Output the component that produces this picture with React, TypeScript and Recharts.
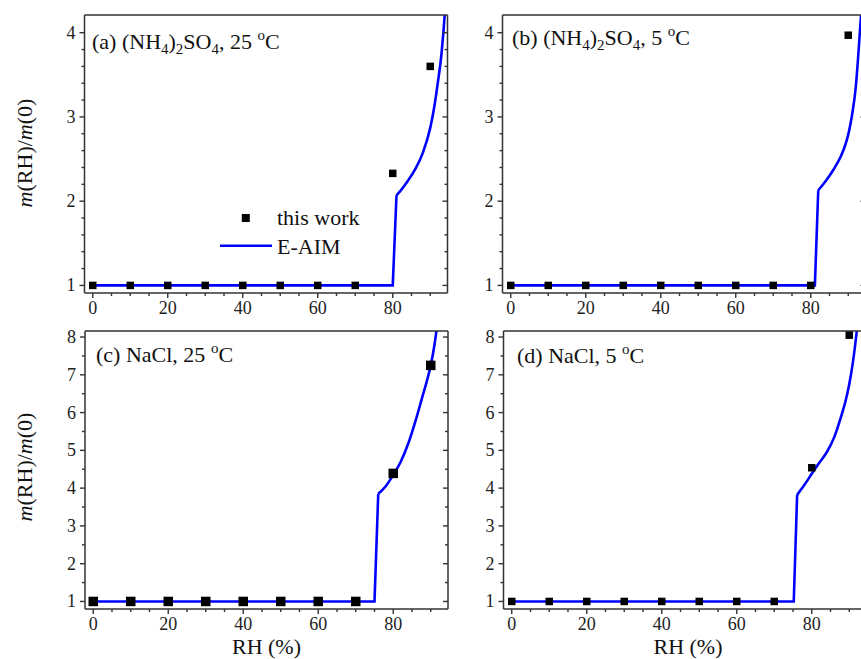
import React from 'react';
import { ComposedChart, Line, Scatter, XAxis, YAxis, Legend } from 'recharts';

// measured points (this work)
const rhMeasured = [0, 10, 20, 30, 40, 50, 60, 70, 80, 90];
const amsWork25 = [1, 1, 1, 1, 1, 1, 1, 1, 2.33, 3.6];
const amsWork5 = [1, 1, 1, 1, 1, 1, 1, 1, 1, 3.97];
const naclWork25 = [1, 1, 1, 1, 1, 1, 1, 1, 4.39, 7.25];
const naclWork5 = [1, 1, 1, 1, 1, 1, 1, 1, 4.54, 8.05];

// E-AIM model curves (first three points: plateau + deliquescence jump)
const rhAimAms25 = [0, 80, 81, 82, 84, 86, 88, 90, 91, 92, 93, 93.5, 94, 94.6];
const aimAms25 = [1, 1, 2.07, 2.12, 2.24, 2.38, 2.57, 2.87, 3.1, 3.4, 3.75, 4.0, 4.3, 4.75];
const rhAimAms5 = [0, 81.1, 82, 84, 86, 88, 89, 90, 91, 92, 92.7, 93.4, 94, 94.6];
const aimAms5 = [1, 1, 2.13, 2.24, 2.37, 2.53, 2.64, 2.79, 3.02, 3.35, 3.75, 4.2, 4.65, 5.2];
const rhAimNacl25 = [0, 75, 76, 78, 80, 82, 84, 86, 88, 89, 90, 91, 91.5, 92];
const aimNacl25 = [1, 1, 3.85, 4.05, 4.35, 4.7, 5.18, 5.8, 6.5, 6.85, 7.25, 7.8, 8.15, 8.55];
const rhAimNacl5 = [0, 75.2, 76.1, 78, 80, 82, 84, 86, 88, 89, 90, 91, 92, 93];
const aimNacl5 = [1, 1, 3.82, 4.08, 4.38, 4.67, 4.95, 5.35, 5.95, 6.3, 6.75, 7.35, 8.15, 9.1];

// ticks
const rhTicks = [0, 5, 10, 15, 20, 25, 30, 35, 40, 45, 50, 55, 60, 65, 70, 75, 80, 85, 90];
const rhLabels = [0, 20, 40, 60, 80];
const amsTicks = [1, 1.2, 1.4, 1.6, 1.8, 2, 2.2, 2.4, 2.6, 2.8, 3, 3.2, 3.4, 3.6, 3.8, 4];
const amsLabels = [1, 2, 3, 4];
const naclTicks = [1, 1.5, 2, 2.5, 3, 3.5, 4, 4.5, 5, 5.5, 6, 6.5, 7, 7.5, 8];
const naclLabels = [1, 2, 3, 4, 5, 6, 7, 8];

const FONT = '"Liberation Serif", "Times New Roman", serif';
const AXIS = '#333';
const BLUE = '#0000ff';
const rhDomain = [-2.2, 94.6];

const zip = (xs: number[], ys: number[]) => xs.map((rh, i) => ({ rh, v: ys[i] }));
const isLabel = (v: number, labels: number[]) => labels.some((l) => Math.abs(l - v) < 1e-6);

const makeTick = (side: 'bottom' | 'top' | 'left' | 'right', labels: number[]) => (props: any) => {
  const { x, y, payload } = props;
  const major = isLabel(payload.value, labels);
  const len = major ? 5 : 3;
  let x2 = x, y2 = y;
  if (side === 'bottom' || side === 'top') y2 = y + len;
  if (side === 'left' || side === 'right') x2 = x - len;
  return (
    <g>
      <line x1={x} y1={y} x2={x2} y2={y2} stroke={AXIS} strokeWidth={1.4} />
      {major && side === 'bottom' && (
        <text x={x} y={y + 21} textAnchor="middle" fontSize={18} fontFamily={FONT} fill="#222">
          {payload.value}
        </text>
      )}
      {major && side === 'left' && (
        <text x={x - 9} y={y + 6} textAnchor="end" fontSize={18} fontFamily={FONT} fill="#222">
          {payload.value}
        </text>
      )}
    </g>
  );
};

const legendContent = () => (
  <svg width={160} height={56} style={{ display: 'block' }}>
    <rect x={21.8} y={9} width={8} height={8} fill="#000" />
    <text x={57} y={20} fontSize={22} fontFamily={FONT} fill="#111">this work</text>
    <line x1={0} x2={52} y1={40.7} y2={40.7} stroke={BLUE} strokeWidth={2.5} />
    <text x={57} y={49} fontSize={22} fontFamily={FONT} fill="#111">E-AIM</text>
  </svg>
);

type PanelProps = {
  cl: number; ct: number; w: number; h: number;
  plot: [number, number, number, number];
  yDomain: number[]; yTicks: number[]; yLabels: number[];
  points: { rh: number; v: number }[];
  curve: { rh: number; v: number }[];
  sq: number;
  legend?: boolean;
};

const Panel = ({ cl, ct, w, h, plot, yDomain, yTicks, yLabels, points, curve, sq, legend }: PanelProps) => {
  const [pl, pt, pr, pb] = plot;
  const axisLine = { stroke: AXIS, strokeWidth: 1.5 };
  const jump = curve.slice(0, 3);
  const growth = curve.slice(2);
  return (
    <div style={{ position: 'absolute', left: cl, top: ct }}>
      <ComposedChart width={w} height={h} margin={{ top: pt - ct, right: cl + w - pr, bottom: 0, left: 0 }}>
        <XAxis xAxisId="b" dataKey="rh" type="number" domain={rhDomain} allowDataOverflow ticks={rhTicks}
          interval={0} tickLine={false} tickSize={0} tickMargin={0} height={ct + h - pb}
          axisLine={axisLine} tick={makeTick('bottom', rhLabels)} />
        <XAxis xAxisId="t" orientation="top" mirror type="number" domain={rhDomain} allowDataOverflow
          ticks={rhTicks} interval={0} tickLine={false} tickSize={0} tickMargin={0}
          axisLine={axisLine} tick={makeTick('top', rhLabels)} />
        <YAxis yAxisId="l" dataKey="v" type="number" domain={yDomain} allowDataOverflow ticks={yTicks}
          interval={0} tickLine={false} tickSize={0} tickMargin={0} width={pl - cl}
          axisLine={axisLine} tick={makeTick('left', yLabels)} />
        <YAxis yAxisId="r" orientation="right" mirror type="number" domain={yDomain} allowDataOverflow
          ticks={yTicks} interval={0} tickLine={false} tickSize={0} tickMargin={0}
          axisLine={axisLine} tick={makeTick('right', yLabels)} />
        <Line xAxisId="b" yAxisId="l" data={jump} dataKey="v" type="linear" stroke={BLUE}
          strokeWidth={2.6} dot={false} isAnimationActive={false} legendType="none" />
        <Line xAxisId="b" yAxisId="l" data={growth} dataKey="v" type="monotone" stroke={BLUE}
          strokeWidth={2.6} dot={false} isAnimationActive={false} legendType="line" name="E-AIM" />
        <Scatter xAxisId="b" yAxisId="l" data={points} fill="#000" isAnimationActive={false} name="this work"
          shape={(p: any) => <rect x={p.cx - sq / 2} y={p.cy - sq / 2} width={sq} height={sq} fill="#000" />} />
        {legend && (
          <Legend layout="vertical" align="center" verticalAlign="middle" content={legendContent}
            wrapperStyle={{ left: 220, top: 205, width: 160, height: 56 }} />
        )}
      </ComposedChart>
    </div>
  );
};

const Annotation = ({ x, y, parts }: { x: number; y: number; parts: React.ReactNode }) => (
  <text x={x} y={y} fontSize={22} fontFamily={FONT} fill="#111">{parts}</text>
);

const ams = (temp: string) => (
  <>
    <tspan>(NH</tspan>
    <tspan fontSize={15} dy={5}>4</tspan>
    <tspan dy={-5}>)</tspan>
    <tspan fontSize={15} dy={5}>2</tspan>
    <tspan dy={-5}>SO</tspan>
    <tspan fontSize={15} dy={5}>4</tspan>
    <tspan dy={-5}>{`, ${temp} `}</tspan>
    <tspan fontSize={15} dy={-9}>o</tspan>
    <tspan dy={9}>C</tspan>
  </>
);

const nacl = (temp: string) => (
  <>
    <tspan>{`NaCl, ${temp} `}</tspan>
    <tspan fontSize={15} dy={-9}>o</tspan>
    <tspan dy={9}>C</tspan>
  </>
);

const YLabel = ({ cy }: { cy: number }) => (
  <text transform={`translate(32,${cy}) rotate(-90)`} textAnchor="middle" fontSize={22} fontFamily={FONT} fill="#111">
    <tspan fontStyle="italic">m</tspan>(RH)/<tspan fontStyle="italic">m</tspan>(0)
  </text>
);

export default function App() {
  return (
    <div style={{ position: 'fixed', left: 0, top: 0, width: 861, height: 659, overflow: 'hidden', background: '#fff' }}>
      <Panel cl={0} ct={0} w={460} h={320} plot={[84.5, 15, 447.5, 293]} yDomain={[0.91, 4.21]}
        yTicks={amsTicks} yLabels={amsLabels} points={zip(rhMeasured, amsWork25)} curve={zip(rhAimAms25, aimAms25)}
        sq={7.5} legend />
      <Panel cl={430} ct={0} w={440} h={320} plot={[502.5, 15, 865.5, 293]} yDomain={[0.91, 4.21]}
        yTicks={amsTicks} yLabels={amsLabels} points={zip(rhMeasured, amsWork5)} curve={zip(rhAimAms5, aimAms5)}
        sq={7.5} />
      <Panel cl={0} ct={316} w={460} h={330} plot={[85, 331, 448, 609]} yDomain={[0.8, 8.16]}
        yTicks={naclTicks} yLabels={naclLabels} points={zip(rhMeasured, naclWork25)} curve={zip(rhAimNacl25, aimNacl25)}
        sq={9.5} />
      <Panel cl={430} ct={316} w={440} h={330} plot={[503.5, 331, 866.5, 609]} yDomain={[0.8, 8.16]}
        yTicks={naclTicks} yLabels={naclLabels} points={zip(rhMeasured, naclWork5)} curve={zip(rhAimNacl5, aimNacl5)}
        sq={7.5} />
      <svg width={861} height={659} style={{ position: 'absolute', left: 0, top: 0, pointerEvents: 'none' }}>
        <Annotation x={92} y={49} parts={<><tspan>(a) </tspan>{ams('25')}</>} />
        <Annotation x={512} y={45} parts={<><tspan>(b) </tspan>{ams('5')}</>} />
        <Annotation x={96} y={362} parts={<><tspan>(c) </tspan>{nacl('25')}</>} />
        <Annotation x={517} y={363} parts={<><tspan>(d) </tspan>{nacl('5')}</>} />
        <YLabel cy={153} />
        <YLabel cy={467} />
        <text x={266.5} y={654} textAnchor="middle" fontSize={22} fontFamily={FONT} fill="#111">RH (%)</text>
        <text x={688} y={654} textAnchor="middle" fontSize={22} fontFamily={FONT} fill="#111">RH (%)</text>
      </svg>
    </div>
  );
}
